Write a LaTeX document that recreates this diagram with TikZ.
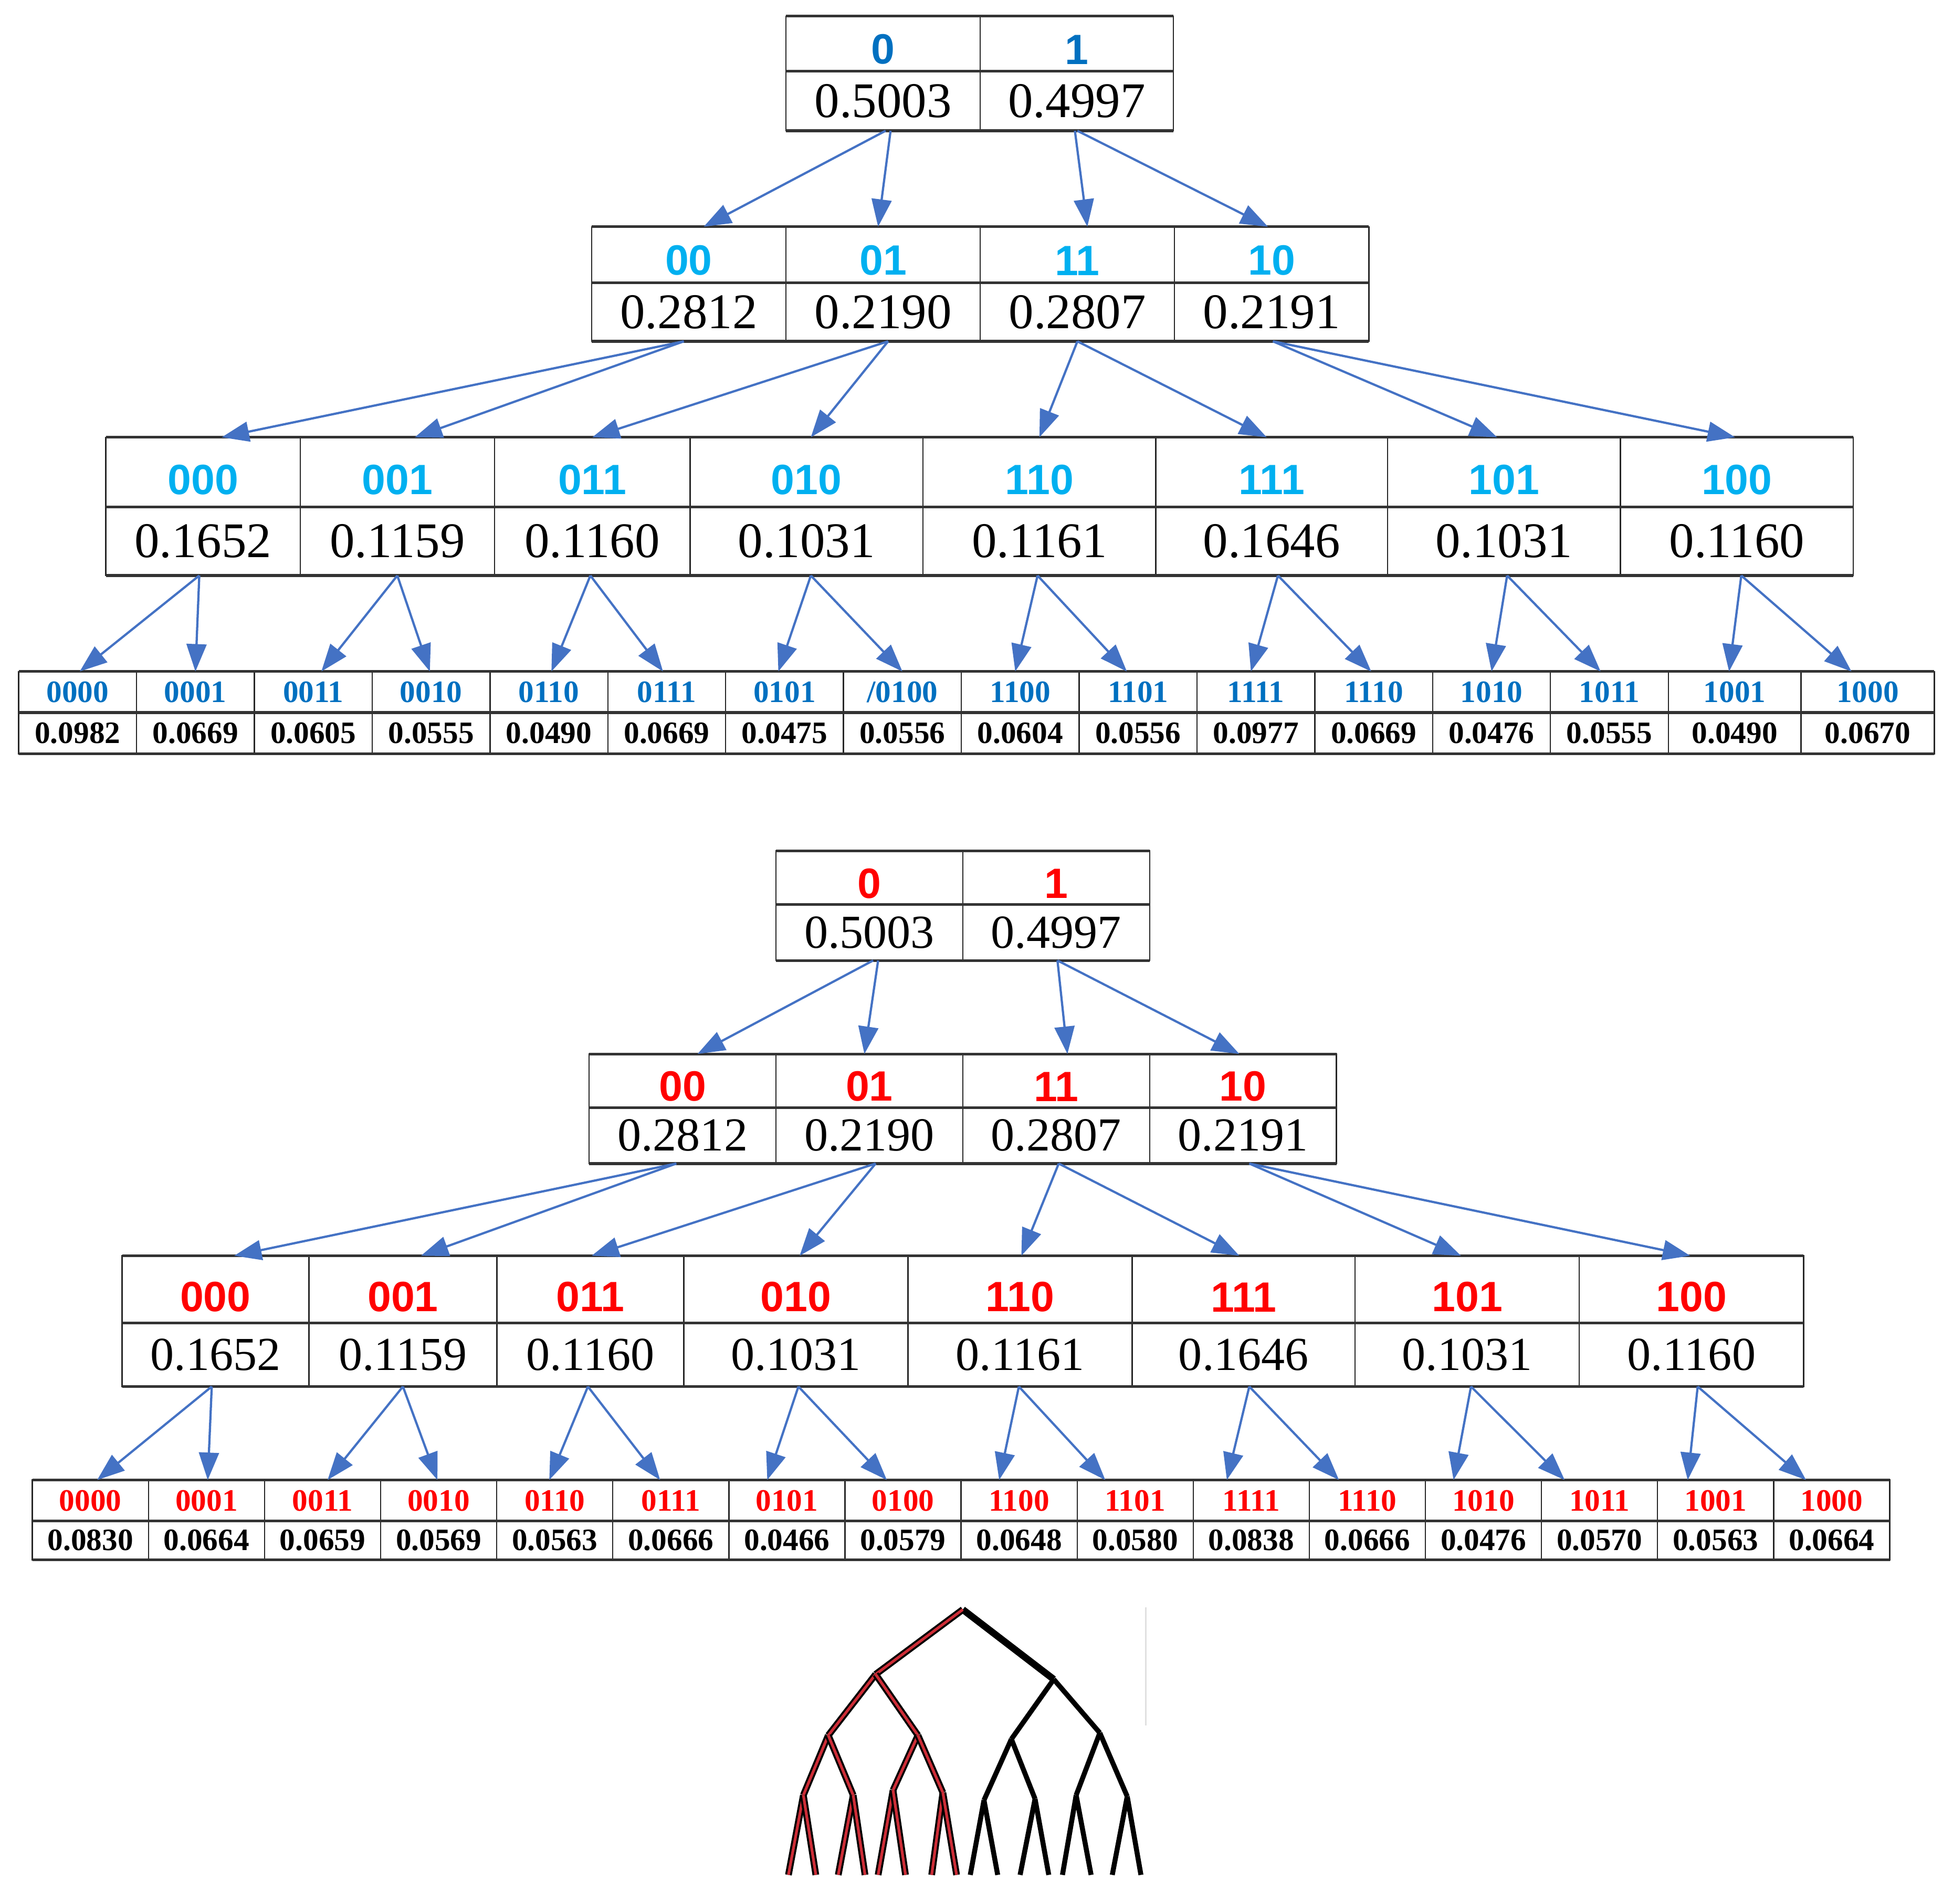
\documentclass[tikz,border=0pt]{standalone}
\usepackage{fontspec}
\setmainfont{Liberation Serif}
\newfontfamily\labsans{Liberation Sans}
\usetikzlibrary{arrows.meta}

\definecolor{darkblue}{RGB}{0,112,192}
\definecolor{skyblue}{RGB}{0,176,240}
\definecolor{arrowblue}{RGB}{68,114,196}
\definecolor{treered}{RGB}{205,45,55}

\begin{document}
\begin{tikzpicture}[x=1pt, y=-1pt,
    cell/.style={draw=black!85, line width=1pt, inner sep=0pt, outer sep=0pt},
    binlab/.style={cell, font=\labsans\bfseries\fontsize{34}{36}\selectfont, text height=33pt},
    probval/.style={cell, font=\fontsize{40}{44}\selectfont},
    leaflab/.style={cell, font=\bfseries\fontsize{25}{28}\selectfont},
    leafval/.style={cell, font=\bfseries\fontsize{25}{28}\selectfont},
    rowline/.style={draw=black!80, line width=2.2pt},
    arr/.style={arrowblue, line width=1.8pt, -{Triangle[length=22pt, width=16pt]}},
    redtree/.style={draw=black, line width=1.6pt, double=treered, double distance=2.2pt},
    blacktree/.style={draw=black, line width=4pt}]
  \useasboundingbox (0,0) rectangle (1568,1528);

  % upper diagram
  \foreach \xl/\xr/\lab/\val [count=\i] in {631/787/0/0.5003, 787/942/1/0.4997} {
    \node[binlab, text=darkblue, minimum width={(\xr-\xl)*1pt}, minimum height=44pt] (a1l\i) at ({(\xl+\xr)/2},35) {\lab};
    \node[probval, minimum width={(\xr-\xl)*1pt}, minimum height=48pt] (a1v\i) at ({(\xl+\xr)/2},81) {\val};
  }
  \foreach \xl/\xr/\lab/\val [count=\i] in {475/631/00/0.2812, 631/787/01/0.2190, 787/943/11/0.2807, 943/1099/10/0.2191} {
    \node[binlab, text=skyblue, minimum width={(\xr-\xl)*1pt}, minimum height=45pt] (a2l\i) at ({(\xl+\xr)/2},204.5) {\lab};
    \node[probval, minimum width={(\xr-\xl)*1pt}, minimum height=47pt] (a2v\i) at ({(\xl+\xr)/2},250.5) {\val};
  }
  \foreach \xl/\xr/\lab/\val [count=\i] in {85/241/000/0.1652, 241/397/001/0.1159, 397/554/011/0.1160, 554/741/010/0.1031,
      741/928/110/0.1161, 928/1114/111/0.1646, 1114/1301/101/0.1031, 1301/1488/100/0.1160} {
    \node[binlab, text=skyblue, text height=36pt, minimum width={(\xr-\xl)*1pt}, minimum height=56pt] (a3l\i) at ({(\xl+\xr)/2},379) {\lab};
    \node[probval, minimum width={(\xr-\xl)*1pt}, minimum height=55pt] (a3v\i) at ({(\xl+\xr)/2},434.5) {\val};
  }
  \foreach \xl/\xr/\lab/\val [count=\i] in {15/109.6/0000/0.0982, 109.6/204.2/0001/0.0669, 204.2/298.8/0011/0.0605,
      298.8/393.4/0010/0.0555, 393.4/488/0110/0.0490, 488/582.6/0111/0.0669, 582.6/677.2/0101/0.0475,
      677.2/771.8/{/0100}/0.0556, 771.8/866.4/1100/0.0604, 866.4/961/1101/0.0556, 961/1055.6/1111/0.0977,
      1055.6/1150.2/1110/0.0669, 1150.2/1244.8/1010/0.0476, 1244.8/1339.4/1011/0.0555,
      1339.4/1446/1001/0.0490, 1446/1553/1000/0.0670} {
    \node[leaflab, text=darkblue, minimum width={(\xr-\xl)*1pt}, minimum height=33pt] (a4l\i) at ({(\xl+\xr)/2},555.5) {\lab};
    \node[leafval, minimum width={(\xr-\xl)*1pt}, minimum height=33pt] (a4v\i) at ({(\xl+\xr)/2},588.5) {\val};
  }

  % lower diagram
  \begin{scope}[probval/.append style={font=\fontsize{38}{42}\selectfont}]
  \foreach \xl/\xr/\lab/\val [count=\i] in {623/773/0/0.5003, 773/923/1/0.4997} {
    \node[binlab, text=red, minimum width={(\xr-\xl)*1pt}, minimum height=43pt] (b1l\i) at ({(\xl+\xr)/2},704.5) {\lab};
    \node[probval, minimum width={(\xr-\xl)*1pt}, minimum height=45pt] (b1v\i) at ({(\xl+\xr)/2},748.5) {\val};
  }
  \foreach \xl/\xr/\lab/\val [count=\i] in {473/623/00/0.2812, 623/773/01/0.2190, 773/923/11/0.2807, 923/1073/10/0.2191} {
    \node[binlab, text=red, minimum width={(\xr-\xl)*1pt}, minimum height=43pt] (b2l\i) at ({(\xl+\xr)/2},867.5) {\lab};
    \node[probval, minimum width={(\xr-\xl)*1pt}, minimum height=45pt] (b2v\i) at ({(\xl+\xr)/2},911.5) {\val};
  }
  \foreach \xl/\xr/\lab/\val [count=\i] in {98/248/000/0.1652, 248/399/001/0.1159, 399/549/011/0.1160, 549/729/010/0.1031,
      729/909/110/0.1161, 909/1088/111/0.1646, 1088/1268/101/0.1031, 1268/1448/100/0.1160} {
    \node[binlab, text=red, text height=36pt, minimum width={(\xr-\xl)*1pt}, minimum height=54pt] (b3l\i) at ({(\xl+\xr)/2},1035) {\lab};
    \node[probval, minimum width={(\xr-\xl)*1pt}, minimum height=51pt] (b3v\i) at ({(\xl+\xr)/2},1087.5) {\val};
  }
  \end{scope}
  \foreach \lab/\val [count=\i] in {0000/0.0830, 0001/0.0664, 0011/0.0659, 0010/0.0569, 0110/0.0563, 0111/0.0666,
      0101/0.0466, 0100/0.0579, 1100/0.0648, 1101/0.0580, 1111/0.0838, 1110/0.0666, 1010/0.0476,
      1011/0.0570, 1001/0.0563, 1000/0.0664} {
    \node[leaflab, text=red, minimum width=93.2pt, minimum height=33pt] (b4l\i) at ({26+93.2*(\i-0.5)},1204.5) {\lab};
    \node[leafval, minimum width=93.2pt, minimum height=31pt] (b4v\i) at ({26+93.2*(\i-0.5)},1236.5) {\val};
  }

  \foreach \blk/\n in {a1/2, a2/4, a3/8, a4/16, b1/2, b2/4, b3/8, b4/16}
    \draw[rowline] (\blk l1.north west) -- (\blk l\n.north east)
                   (\blk l1.south west) -- (\blk l\n.south east)
                   (\blk v1.south west) -- (\blk v\n.south east);

  \foreach \pa/\ch/\dpa/\dch in {a1v1/a2l1/2/12, a1v1/a2l2/6/-4, a1v2/a2l3/-1.5/8, a1v2/a2l4/0.5/-3,
      a2v1/a3l1/-4/15, a2v1/a3l2/-4/14, a2v2/a3l3/4/0, a2v2/a3l4/4/3.5,
      a2v3/a3l5/0/0, a2v3/a3l6/0/-4, a2v4/a3l7/1/-5.5, a2v4/a3l8/1/-1.5,
      a3v1/a4l1/-3/1.7, a3v1/a4l2/-3/0, a3v2/a4l3/0/6.5, a3v2/a4l4/0/-1,
      a3v3/a4l5/-1.5/2, a3v3/a4l6/-1.5/-3, a3v4/a4l7/3.5/-5, a3v4/a4l8/3.5/0,
      a3v5/a4l9/-1.5/-4, a3v5/a4l10/-1.5/-9, a3v6/a4l11/5/-4, a3v6/a4l12/5/-2,
      a3v7/a4l13/2.5/0, a3v7/a4l14/2.5/-7, a3v8/a4l15/3.5/-4.5, a3v8/a4l16/3.5/-13,
      b1v1/b2l1/3/12, b1v1/b2l2/7/-4, b1v2/b2l3/1/9, b1v2/b2l4/1/-3,
      b2v1/b3l1/-5/15, b2v1/b3l2/-5/14.5, b2v2/b3l3/5/1, b2v2/b3l4/5/3,
      b2v3/b3l5/2/1, b2v3/b3l6/2/-3.5, b2v4/b3l7/5/-5, b2v4/b3l8/5/-1,
      b3v1/b4l1/-3/5.4, b3v1/b4l2/-3/1, b3v2/b4l3/0/4, b3v2/b4l4/0/-1,
      b3v3/b4l5/-2/-4.4, b3v3/b4l6/-2/-8.6, b3v4/b4l7/2/-15.8, b3v4/b4l8/2/-13,
      b3v5/b4l9/-1/-16, b3v5/b4l10/-1/-24, b3v6/b4l11/4.5/-19.6, b3v6/b4l12/4.5/-22.8,
      b3v7/b4l13/3/-24, b3v7/b4l14/3/-28, b3v8/b4l15/5/-22.4, b3v8/b4l16/5/-20.6}
    \draw[arr] ([xshift=\dpa pt]\pa.south) -- ([xshift=\dch pt]\ch.north);

  % binary tree
  \coordinate (r) at (773,1292);
  \coordinate (t0) at (703,1344);
  \coordinate (t1) at (846,1348);
  \coordinate (t00) at (665,1393);
  \coordinate (t01) at (737,1393);
  \coordinate (t10) at (812,1396);
  \coordinate (t11) at (883,1391);
  \foreach \nm/\px/\py in {t000/645/1441, t001/685/1441, t010/717/1437, t011/757/1439,
      t100/790/1445, t101/831/1444, t110/864/1441, t111/905/1442}
    \coordinate (\nm) at (\px,\py);
  \foreach \nm/\px in {t0000/633, t0001/655, t0010/673, t0011/694.5, t0100/705, t0101/727, t0110/748, t0111/768,
      t1000/779, t1001/801, t1010/819, t1011/842, t1100/853, t1101/876, t1110/893, t1111/916}
    \coordinate (\nm) at (\px,1505);
  \draw[black!12, line width=1pt] (920,1290) -- (920,1385);
  \draw[blacktree, line width=5.5pt] (r) -- (t1);
  \foreach \pa/\ch in {t1/t10, t1/t11, t10/t100, t10/t101, t11/t110, t11/t111,
      t100/t1000, t100/t1001, t101/t1010, t101/t1011, t110/t1100, t110/t1101, t111/t1110, t111/t1111}
    \draw[blacktree] (\pa) -- (\ch);
  \foreach \pa/\ch in {r/t0, t0/t00, t0/t01, t00/t000, t00/t001, t01/t010, t01/t011,
      t000/t0000, t000/t0001, t001/t0010, t001/t0011, t010/t0100, t010/t0101, t011/t0110, t011/t0111}
    \draw[redtree] (\pa) -- (\ch);
\end{tikzpicture}
\end{document}
